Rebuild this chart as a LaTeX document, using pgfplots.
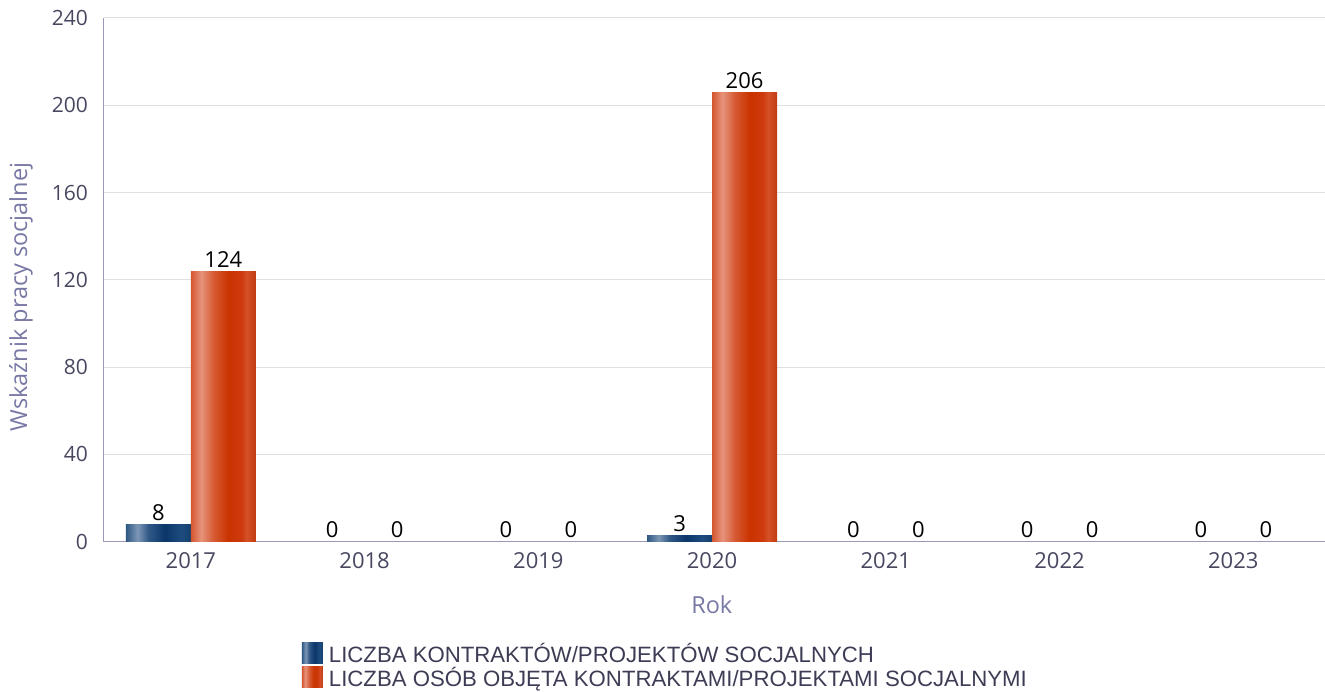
\documentclass[border=0pt]{standalone}
\usepackage{pgfplots}
\pgfplotsset{compat=1.18}
\usepackage{fontspec}
\setmainfont{Open Sans}
\newfontfamily\legfont{Liberation Sans}
\definecolor{ob0}{HTML}{D4562F}
\definecolor{ob1}{HTML}{E6937B}
\definecolor{ob2}{HTML}{D65A33}
\definecolor{ob3}{HTML}{CA3300}
\definecolor{ob4}{HTML}{CE3A0E}
\definecolor{ob5}{HTML}{D55127}
\definecolor{ob6}{HTML}{C03A12}
\definecolor{bb0}{HTML}{2E5884}
\definecolor{bb1}{HTML}{7D96B5}
\definecolor{bb2}{HTML}{2F5886}
\definecolor{bb3}{HTML}{0A3669}
\definecolor{bb4}{HTML}{1F4C7E}
\definecolor{bb5}{HTML}{143F70}
\pgfdeclarehorizontalshading{orangebar}{100bp}{color(0bp)=(ob0); color(25bp)=(ob0); color(33bp)=(ob1); color(42.5bp)=(ob2); color(54bp)=(ob3); color(64bp)=(ob4); color(68bp)=(ob5); color(75bp)=(ob6); color(100bp)=(ob6)}
\pgfdeclarehorizontalshading{bluebar}{100bp}{color(0bp)=(bb0); color(25bp)=(bb0); color(34bp)=(bb1); color(42.5bp)=(bb2); color(55bp)=(bb3); color(67.5bp)=(bb4); color(75bp)=(bb5); color(100bp)=(bb5)}
\definecolor{ticktext}{HTML}{474760}
\definecolor{labtext}{HTML}{7878A5}
\definecolor{axline}{HTML}{9A9AB8}
\definecolor{gridc}{HTML}{E0E0E0}
\definecolor{legtext}{HTML}{3C3C55}
\begin{document}
\begin{tikzpicture}
\begin{axis}[
  width=1221pt, height=524pt, scale only axis,
  xmin=-0.5, xmax=6.525, ymin=0, ymax=240,
  ytick={0,40,80,120,160,200,240},
  xtick={0,1,2,3,4,5,6},
  xticklabels={2017,2018,2019,2020,2021,2022,2023},
  axis x line*=bottom, axis y line*=left,
  axis line style={draw=axline, line width=1pt, -},
  major tick length=0pt,
  ymajorgrids, grid style={draw=gridc, line width=1pt},
  /pgf/number format/assume math mode=true,
  xticklabel style={font=\fontsize{22}{22}\selectfont, text=ticktext, anchor=north, inner sep=0pt, yshift=-11pt},
  yticklabel style={font=\fontsize{21}{21}\selectfont, text=ticktext, anchor=east, inner sep=0pt, xshift=-16pt},
  xlabel={Rok},
  ylabel={Wskaźnik pracy socjalnej},
  xlabel style={font=\fontsize{23.5}{23.5}\selectfont, text=labtext, at={(axis description cs:0.498,-0.120)}, anchor=center},
  ylabel style={font=\fontsize{23.5}{23.5}\selectfont, text=labtext, at={(axis description cs:-0.0680,0.4676)}, anchor=center, rotate=0},
  legend style={at={(axis description cs:0.1622,-0.1927)}, anchor=north west, draw=none, fill=none, inner sep=0pt, outer sep=0pt, row sep=3pt,
    font=\legfont\fontsize{22.2}{22.2}\selectfont, text=legtext,
    nodes={inner sep=0pt, outer sep=0pt},
    /tikz/every odd column/.append style={column sep=6pt}},
  legend cell align=left,
  nodes near coords style={font=\fontsize{22}{22}\selectfont, text=black, anchor=south, inner sep=0pt, yshift=3.5pt},
  clip=false,
  bluebars/.style={ybar, bar width=65pt, bar shift=-32.5pt, draw=none, shade, shading=bluebar, forget plot},
  orangebars/.style={ybar, bar width=65pt, bar shift=32.5pt, draw=none, shade, shading=orangebar, forget plot},
]
\coordinate (O) at (rel axis cs:0,0);
% bars (nonzero values), one path per bar so that each bar gets its own shading
\addplot[bluebars] coordinates {(0,8)};
\addplot[bluebars] coordinates {(3,3)};
\addplot[orangebars] coordinates {(0,124)};
\addplot[orangebars] coordinates {(3,206)};
% value labels
\addplot[only marks, mark=none, forget plot, nodes near coords, nodes near coords style={xshift=-32.5pt}]
  coordinates {(0,8) (1,0) (2,0) (3,3) (4,0) (5,0) (6,0)};
\addplot[only marks, mark=none, forget plot, nodes near coords, nodes near coords style={xshift=32.5pt}]
  coordinates {(0,124) (1,0) (2,0) (3,206) (4,0) (5,0) (6,0)};
\addlegendimage{legend image code/.code={\path[draw=none, shade, shading=bluebar] (0pt,-10.5pt) rectangle (21pt,10.5pt);}}
\addlegendentry{LICZBA KONTRAKTÓW/PROJEKTÓW SOCJALNYCH}
\addlegendimage{legend image code/.code={\path[draw=none, shade, shading=orangebar] (0pt,-10.5pt) rectangle (21pt,10.5pt);}}
\addlegendentry{LICZBA OSÓB OBJĘTA KONTRAKTAMI/PROJEKTAMI SOCJALNYMI}
\end{axis}
\path[use as bounding box] ([xshift=-104pt,yshift=-150pt]O) rectangle ++(1325pt,692pt);
\end{tikzpicture}
\end{document}
